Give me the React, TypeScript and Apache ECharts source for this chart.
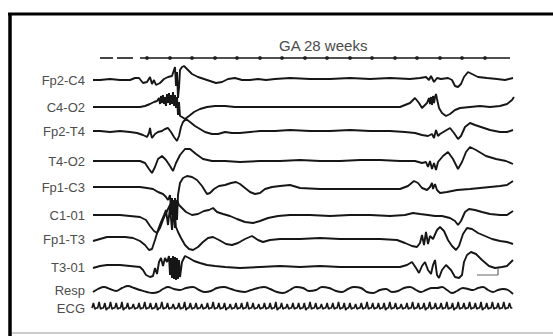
import React, { useEffect, useRef } from "react";
import * as echarts from "echarts";

// ---- Data (time in samples, amplitude in display units; EEG convention: negative = up) ----
const TITLE = "GA 28 weeks";
const CHANNELS = ["Fp2-C4", "C4-O2", "Fp2-T4", "T4-O2", "Fp1-C3", "C1-01", "Fp1-T3", "T3-01", "Resp", "ECG"];

const FP2_C4: number[][] = [
  [3,0],[10,0],[20,-1],[30,0],[40,0],[45,-2],[49,-2],[53,3],[57,2],[60,-3],[62,4],[64,0],[66,5],[70,3],[74,-1],[78,-3],[82,-4],[84,-10],[85,-13],[86,6],[87,-8],[88,18],[89,8],[90,-10],[92,-13],[94,-14],[97,-11],[102,-6],[108,-3],[114,-1],[120,1],[126,3],[132,2],[138,-1],[145,-2],[152,0],[160,0],[168,-1],[176,0],[185,-1],[200,-2],[220,-1],[240,-1],[260,-2],[280,-1],[300,-2],[320,-1],[330,-2],[336,-3],[339,0],[341,-4],[344,2],[347,-2],[351,-1],[358,-2],[362,0],[365,6],[368,7],[371,4],[374,-3],[378,-8],[382,-6],[388,-3],[397,-2],[407,-1],[415,0],[423,-2],
];
const C4_O2: number[][] = [
  [3,0],[10,0],[20,0],[30,0],[40,0],[50,0],[55,-1],[60,-3],[64,-5],[67,-6],[69,-9],[70,-3],[71,-11],[72,-4],[73,-12],[74,-3],[75,-10],[76,-1],[77,-13],[78,-4],[79,-14],[80,-2],[81,-12],[82,-3],[83,-15],[84,-1],[85,-12],[86,1],[87,-10],[88,8],[89,-5],[90,9],[92,10],[95,12],[99,9],[104,5],[110,2],[117,0],[125,-1],[135,-1],[145,0],[160,0],[180,0],[210,0],[240,0],[270,0],[300,0],[310,0],[315,-2],[320,-4],[325,-9],[329,-4],[332,1],[335,-2],[337,-4],[339,-9],[340,-3],[341,-10],[342,-2],[343,-11],[344,-4],[345,-10],[346,-13],[347,-8],[349,1],[352,6],[356,9],[360,7],[365,3],[370,1],[380,0],[390,-1],[400,0],[410,-1],[417,-3],[422,-7],[424,-10],
];
const FP2_T4: number[][] = [
  [3,0],[10,0],[20,1],[30,0],[40,1],[47,2],[53,4],[57,6],[59,2],[60,-3],[61,3],[62,7],[65,3],[68,1],[72,0],[75,-2],[78,-3],[81,1],[84,6],[87,10],[89,5],[91,-4],[93,-9],[96,-12],[100,-9],[105,-5],[110,-2],[115,1],[122,3],[128,3],[135,1],[142,2],[150,2],[160,1],[170,0],[185,0],[200,-1],[220,0],[240,0],[260,-1],[280,0],[300,0],[315,1],[325,2],[332,4],[338,5],[342,3],[344,7],[346,-1],[348,5],[350,3],[355,0],[360,-3],[364,2],[368,8],[371,5],[375,-4],[380,-8],[385,-6],[391,-4],[400,-1],[410,1],[417,1],[423,-1],
];
const T4_O2: number[][] = [
  [3,0],[10,0],[20,0],[30,0],[40,0],[50,0],[55,2],[59,8],[62,12],[65,6],[68,-2],[72,-5],[76,-1],[80,5],[83,10],[86,2],[90,-6],[95,-12],[100,-12],[106,-7],[113,-2],[122,0],[135,0],[150,1],[170,0],[190,0],[210,-1],[230,0],[250,0],[270,-1],[290,-1],[310,0],[325,0],[332,2],[336,1],[338,6],[340,0],[342,8],[344,2],[346,9],[348,1],[353,-5],[358,-9],[363,-2],[368,8],[372,1],[376,-9],[380,-14],[386,-11],[396,-5],[406,-2],[416,0],[423,3],
];
const FP1_C3: number[][] = [
  [3,0],[10,0],[20,0],[30,0],[40,0],[50,0],[57,1],[63,2],[68,5],[73,7],[76,10],[78,13],[80,8],[81,23],[82,11],[83,35],[84,18],[85,41],[86,23],[87,33],[88,8],[90,-4],[93,-9],[97,-11],[102,-10],[107,-7],[112,-1],[117,7],[120,6],[124,2],[129,-1],[135,-2],[141,-4],[146,-5],[150,-3],[155,1],[160,5],[165,7],[170,6],[175,2],[182,0],[190,-1],[200,-2],[210,1],[230,2],[250,2],[270,2],[290,2],[310,2],[318,-1],[324,-6],[328,-4],[332,1],[337,3],[340,0],[342,-4],[343,2],[345,-3],[347,3],[350,6],[357,5],[367,3],[380,2],[390,1],[400,0],[410,-1],[417,-2],[423,-6],
];
const C1_01: number[][] = [
  [3,0],[10,0],[20,0],[30,0],[40,1],[50,2],[56,5],[60,11],[64,16],[67,18],[70,13],[73,5],[76,-2],[79,-8],[81,-12],[82,0],[83,-15],[84,5],[85,-17],[86,0],[87,-15],[89,-10],[92,-7],[96,-3],[102,0],[108,-1],[114,-4],[119,-5],[123,-7],[127,-3],[133,-1],[140,1],[147,4],[155,7],[163,8],[170,6],[178,3],[188,1],[200,0],[220,0],[240,1],[260,0],[280,0],[300,1],[315,0],[323,-2],[330,-1],[338,0],[345,1],[352,1],[360,3],[365,6],[368,10],[371,6],[375,-3],[379,-6],[385,-5],[392,-3],[400,-1],[410,0],[417,0],[423,-4],
];
const FP1_T3: number[][] = [
  [3,2],[10,0],[17,-2],[25,-2],[35,-2],[43,-1],[50,2],[55,6],[59,11],[62,10],[65,1],[68,-9],[71,-17],[74,-24],[76,-29],[78,-14],[80,-32],[82,-9],[84,-27],[86,-12],[88,-7],[91,-1],[95,6],[99,10],[103,11],[108,8],[113,3],[118,-1],[123,-2],[129,1],[136,5],[142,6],[148,4],[155,0],[162,-3],[168,1],[173,3],[180,1],[190,0],[210,0],[230,-1],[250,0],[270,0],[290,0],[307,1],[315,4],[322,7],[327,8],[330,4],[332,-4],[334,6],[336,-7],[338,5],[340,-3],[343,0],[347,-9],[350,-12],[354,-8],[358,1],[362,7],[366,11],[369,7],[373,-5],[377,-11],[382,-10],[388,-6],[395,-3],[402,0],[410,2],[417,3],[423,5],
];
const T3_01: number[][] = [
  [3,1],[10,-1],[17,-2],[30,-2],[40,-1],[50,0],[53,3],[56,8],[60,10],[63,9],[65,1],[67,7],[69,-5],[71,-9],[73,-1],[75,-9],[77,-5],[79,-11],[80,8],[81,-9],[82,11],[83,-11],[84,12],[85,-10],[86,13],[87,-9],[88,12],[89,-7],[90,10],[92,-5],[95,-11],[99,-9],[104,-6],[110,-4],[117,-2],[125,-1],[135,0],[150,1],[170,0],[190,-1],[210,0],[230,-1],[250,0],[270,0],[290,0],[310,0],[317,-2],[322,-5],[326,1],[329,6],[332,-1],[335,-5],[338,3],[341,7],[343,-2],[345,-7],[347,8],[349,11],[352,3],[356,-2],[361,3],[365,10],[369,11],[372,8],[374,-5],[377,-12],[381,-15],[386,-13],[392,-7],[399,-1],[405,1],[412,0],[417,-1],[420,-4],[423,-7],
];
const RESP: number[][] = [
  [3,2],[8,-1],[14,-3],[20,-1],[26,1],[32,-2],[38,-4],[44,-2],[50,0],[57,2],[63,3],[68,2],[73,-1],[78,-3],[84,-1],[90,0],[96,-2],[103,-3],[109,0],[115,2],[121,1],[127,-2],[134,-3],[141,-1],[148,1],[155,2],[161,0],[168,-2],[174,-3],[180,-1],[187,2],[193,3],[200,0],[206,-3],[213,-2],[219,1],[226,0],[232,-3],[239,-2],[246,1],[252,2],[258,-1],[264,-3],[271,-2],[277,2],[283,3],[290,0],[296,-1],[302,2],[308,1],[314,-2],[320,-3],[326,0],[331,2],[336,0],[342,-2],[347,-2],[352,-3],[357,0],[362,3],[367,1],[373,-2],[378,-1],[383,0],[388,-2],[393,-3],[398,0],[403,2],[408,0],[413,-1],[418,0],[423,4],
];
// ECG sampled uniformly (ECG_STEP samples apart), starting at ECG_T0
const ECG_T0 = 2;
const ECG_STEP = 1.425;
const ECG: number[] = [
  0,-5,1,0, 0,-6,1,0, 0,-5,2,0, 0,-6,1,0, 0,-5,1,0, 0,-6,2,0, 0,-5,1,0, 0,-4,1,0, 0,-5,1,0, 0,-6,1,0,
  0,-5,1,0, 0,-5,2,0, 0,-6,1,0, 0,-5,1,0, 0,-4,1,0, 0,-5,1,0, 0,-6,2,0, 0,-5,1,0, 0,-5,1,0, 0,-4,1,0,
  0,-5,1,0, 0,-6,1,0, 0,-5,1,0, 0,-5,2,0, 0,-4,1,0, 0,-5,1,0, 0,-5,1,0, 0,-6,1,0, 0,-5,1,0, 0,-4,1,0,
  0,-5,1,0, 0,-5,1,0, 0,-6,2,0, 0,-5,1,0, 0,-4,1,0, 0,-5,1,0, 0,-5,1,0, 0,-5,2,0, 0,-6,1,0, 0,-5,1,0,
  0,-4,1,0, 0,-5,1,0, 0,-5,1,0, 0,-6,1,0, 0,-5,2,0, 0,-5,1,0, 0,-4,1,0, 0,-5,1,0, 0,-6,1,0, 0,-5,1,0,
  0,-5,1,0, 0,-5,2,0, 0,-6,1,0, 0,-5,1,0, 0,-4,1,0, 0,-5,1,0, 0,-6,1,0, 0,-5,1,0, 0,-5,2,0, 0,-6,1,0,
  0,-5,1,0, 0,-5,1,0, 0,-6,1,0, 0,-5,2,0, 0,-6,1,0, 0,-5,1,0, 0,-6,1,0, 0,-5,1,0, 0,-6,2,0, 0,-5,1,0,
  0,-6,1,0, 0,-5,1,0, 0,-6,1,0, 0,-5,0,0,
];
// time-mark line: solid segments [start, end] and one-second dots
const TIME_SEGMENTS: number[][] = [[10, 23], [27, 43], [50, 420]];
const TIME_DOTS: number[] = [57, 80, 102, 125, 147, 170, 192, 215, 237, 260, 282, 305, 327, 350, 372, 395];
// calibration bar drawn under T3-01
const CALIBRATION: number[][] = [[387, 8], [408, 8], [408, 1]];

// ---- Layout / style ----
const CHANNEL_OFFSETS = [80, 107, 131, 161, 187, 215, 239, 267, 290, 308];
const TIME_OFFSET = 58;
const TRACE_COLOR = "#161616";
const LABEL_COLOR = "#4d4d4d";
const FONT = "'Liberation Sans', Arial, sans-serif";

const TRACES = [FP2_C4, C4_O2, FP2_T4, T4_O2, FP1_C3, C1_01, FP1_T3, T3_01, RESP];

export default function App() {
  const ref = useRef<HTMLDivElement>(null);
  useEffect(() => {
    if (!ref.current) return;
    const chart = echarts.init(ref.current, undefined, { renderer: "svg" });

    const series: any[] = TRACES.map((pts, i) => ({
      type: "line",
      name: CHANNELS[i],
      data: pts.map(([t, v]) => [t, CHANNEL_OFFSETS[i] + v]),
      showSymbol: false,
      smooth: i === 8 ? 0.4 : false,
      lineStyle: { color: TRACE_COLOR, width: 1.9 },
      silent: true,
    }));

    series.push({
      type: "line",
      name: "ECG",
      data: ECG.map((v, i) => [ECG_T0 + i * ECG_STEP, CHANNEL_OFFSETS[9] + v]),
      showSymbol: false,
      lineStyle: { color: TRACE_COLOR, width: 1.6 },
      silent: true,
    });

    TIME_SEGMENTS.forEach(([a, b]) => {
      series.push({
        type: "line",
        data: [[a, TIME_OFFSET], [b, TIME_OFFSET]],
        showSymbol: false,
        lineStyle: { color: TRACE_COLOR, width: 1.6 },
        silent: true,
      });
    });
    series.push({
      type: "scatter",
      data: TIME_DOTS.map((t) => [t, TIME_OFFSET]),
      symbol: "circle",
      symbolSize: 4,
      itemStyle: { color: TRACE_COLOR },
      silent: true,
    });
    series.push({
      type: "line",
      data: CALIBRATION.map(([t, v]) => [t, CHANNEL_OFFSETS[7] + v]),
      showSymbol: false,
      lineStyle: { color: "#666", width: 1.2 },
      silent: true,
    });

    chart.setOption({
      animation: false,
      backgroundColor: "#fff",
      title: {
        text: TITLE,
        left: 274,
        top: 33,
        textStyle: { fontSize: 15, fontWeight: "normal", color: "#4a4a4a", fontFamily: FONT },
      },
      grid: { left: 90, right: 0, top: 0, bottom: 0 },
      xAxis: { type: "value", min: 0, max: 463, show: false },
      yAxis: {
        type: "value",
        min: 0,
        max: 336,
        inverse: true,
        splitLine: { show: false },
        axisLine: { show: false },
        axisTick: { show: false },
        axisLabel: {
          customValues: CHANNEL_OFFSETS,
          margin: 5,
          color: LABEL_COLOR,
          fontSize: 13,
          fontFamily: FONT,
          formatter: (v: number) => {
            const idx = CHANNEL_OFFSETS.indexOf(v);
            return idx >= 0 ? CHANNELS[idx] : "";
          },
        },
      },
      graphic: [
        { type: "line", shape: { x1: 10, y1: 13, x2: 10, y2: 336 }, style: { stroke: "#000", lineWidth: 3.5 } },
        { type: "line", shape: { x1: 8, y1: 14, x2: 553, y2: 14 }, style: { stroke: "#000", lineWidth: 3 } },
        { type: "line", shape: { x1: 12, y1: 333, x2: 553, y2: 333 }, style: { stroke: "#bbb", lineWidth: 1.5 } },
      ],
      series,
    });
    return () => chart.dispose();
  }, []);
  return (
    <div
      ref={ref}
      style={{ position: "absolute", left: 0, top: 0, width: 553, height: 336, background: "#fff" }}
    />
  );
}
